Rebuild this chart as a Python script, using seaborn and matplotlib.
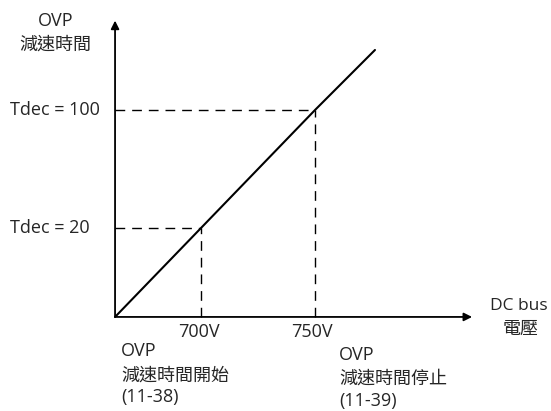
import matplotlib
matplotlib.use("Agg")
import matplotlib.pyplot as plt
import seaborn as sns
import pandas as pd

sns.set_theme(style="white")
plt.rcParams['font.family'] = ['Open Sans', 'Noto Sans CJK TC', 'DejaVu Sans']

# schematic data (voltage in V, Tdec in arbitrary units)
volt_origin = 662.3
tdec_origin = -40.3
volt_marks = [700, 750]
tdec_marks = [20, 100]
volt_end = 776.3
tdec_end = 140.7
volt_labels = ["700V", "750V"]
tdec_labels = ["Tdec = 20", "Tdec = 100"]

line_df = pd.DataFrame({
    "volt": [volt_origin] + volt_marks + [volt_end],
    "tdec": [tdec_origin] + tdec_marks + [tdec_end],
})

fig = plt.figure(figsize=(5.51, 4.11), dpi=100)
ax = fig.add_axes([0, 0, 1, 1])
ax.set_xlim(611.84, 853.5)
ax.set_ylim(-104.07, 174.58)
ax.axis("off")

# main line
sns.lineplot(data=line_df, x="volt", y="tdec", color="black", linewidth=1.5, ax=ax)

# dashed guides
for v, t in zip(volt_marks, tdec_marks):
    ax.plot([volt_origin, v], [t, t], color="black", lw=1, dashes=(7, 5))
    ax.plot([v, v], [tdec_origin, t], color="black", lw=1, dashes=(7, 5))

# axes arrows
ax.annotate("", xy=(volt_origin, 160.6), xytext=(volt_origin, tdec_origin),
            arrowprops=dict(arrowstyle="-|>", color="black", lw=1.3,
                            mutation_scale=12, shrinkA=0, shrinkB=0))
ax.annotate("", xy=(818.9, tdec_origin), xytext=(volt_origin, tdec_origin),
            arrowprops=dict(arrowstyle="-|>", color="black", lw=1.3,
                            mutation_scale=12, shrinkA=0, shrinkB=0))


def px(x, y):
    return x / 551, 1 - y / 411


fs = 13
fig.text(*px(56, 21), "OVP", ha="center", va="center", fontsize=fs)
fig.text(*px(55, 45), "減速時間", ha="center", va="center", fontsize=fs)
fig.text(*px(10, 110), tdec_labels[1], ha="left", va="center", fontsize=fs)
fig.text(*px(10, 228), tdec_labels[0], ha="left", va="center", fontsize=fs)
fig.text(*px(199, 332), volt_labels[0], ha="center", va="center", fontsize=fs)
fig.text(*px(312, 332), volt_labels[1], ha="center", va="center", fontsize=fs)
fig.text(*px(548, 306), "DC bus", ha="right", va="center", fontsize=12.5)
fig.text(*px(521, 329), "電壓", ha="center", va="center", fontsize=fs)

fig.text(*px(121, 351), "OVP", ha="left", va="center", fontsize=fs)
fig.text(*px(121, 376), "減速時間開始", ha="left", va="center", fontsize=fs)
fig.text(*px(121, 397), "(11-38)", ha="left", va="center", fontsize=fs)
fig.text(*px(339, 355), "OVP", ha="left", va="center", fontsize=fs)
fig.text(*px(339, 379), "減速時間停止", ha="left", va="center", fontsize=fs)
fig.text(*px(339, 401), "(11-39)", ha="left", va="center", fontsize=fs)

fig.savefig("out.png", dpi=100, facecolor="white")
